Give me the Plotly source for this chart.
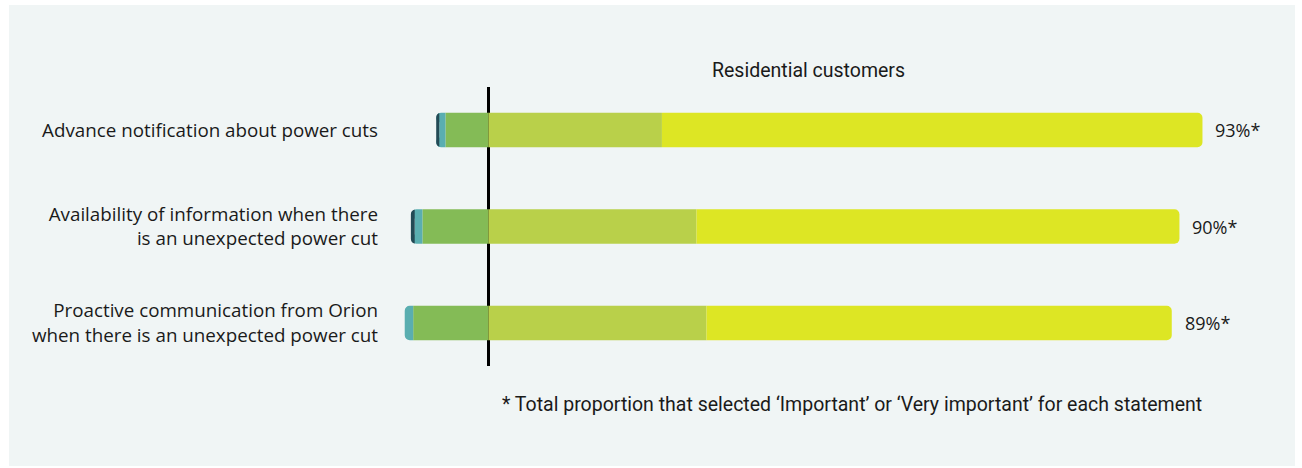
import plotly.graph_objects as go

# Survey statements (top to bottom)
statements = [
    "Advance notification about power cuts",
    "Availability of information when there<br>is an unexpected power cut",
    "Proactive communication from Orion<br>when there is an unexpected power cut",
]

# Share of residential customers per rating (%)
very_unimportant = [0.4, 0.5, 0.0]
unimportant = [0.8, 1.0, 1.1]
neutral = [5.6, 8.6, 9.8]
important = [22.6, 27.1, 28.4]
very_important = [70.4, 62.9, 60.6]

total_labels = ["93%*", "90%*", "89%*"]

colors = {
    "very_unimportant": "#234a55",
    "unimportant": "#5aaeb0",
    "neutral": "#84bb56",
    "important": "#b9d04a",
    "very_important": "#dde624",
}

TEXT = "#1a1a1a"
LABEL_FONT = "Open Sans"
NARROW_FONT = "Roboto"

fig = go.Figure()

# Left of the line: lower ratings stacked outward from zero
for name, vals in [("neutral", neutral), ("unimportant", unimportant),
                   ("very_unimportant", very_unimportant)]:
    fig.add_trace(go.Bar(
        y=statements, x=[-v for v in vals], orientation="h",
        marker=dict(color=colors[name], line=dict(width=0)),
        width=0.357, showlegend=False, hoverinfo="skip",
    ))

# Right of the line: important / very important
for name, vals in [("important", important), ("very_important", very_important)]:
    fig.add_trace(go.Bar(
        y=statements, x=vals, orientation="h",
        marker=dict(color=colors[name], line=dict(width=0)),
        width=0.357, showlegend=False, hoverinfo="skip",
    ))

# Combined "important" totals beside each bar
for s, a, b, lab in zip(statements, important, very_important, total_labels):
    fig.add_annotation(
        x=a + b, y=s, text=lab, showarrow=False,
        xanchor="left", xshift=11,
        font=dict(family=LABEL_FONT, size=18, color=TEXT),
    )

fig.add_annotation(
    xref="paper", yref="paper", x=0.469, y=1, yanchor="bottom", yshift=3,
    text="Residential customers", showarrow=False,
    font=dict(family=NARROW_FONT, size=19.5, color=TEXT),
)
fig.add_annotation(
    xref="paper", yref="paper", x=0.5166, y=0, yanchor="top", yshift=-25,
    text="* Total proportion that selected \u2018Important\u2019 or \u2018Very important\u2019 for each statement",
    showarrow=False,
    font=dict(family=NARROW_FONT, size=19.5, color=TEXT),
)

# Light panel behind the chart
fig.add_shape(
    type="rect", xref="paper", yref="paper",
    x0=-0.4139, x1=1.0055, y0=-0.3584, y1=1.2939,
    fillcolor="#f0f5f5", line=dict(width=0), layer="below",
)

fig.update_layout(
    width=1302, height=468,
    margin=dict(l=384, r=12, t=87, b=102),
    paper_bgcolor="white", plot_bgcolor="rgba(0,0,0,0)",
    barmode="relative", barcornerradius=5,
    xaxis=dict(range=[-13.6, 104.4], showgrid=False, showticklabels=False,
               zeroline=True, zerolinecolor="black", zerolinewidth=2.5,
               fixedrange=True),
    yaxis=dict(range=[2.445, -0.445], showgrid=False, zeroline=False,
               ticks="", ticklabelstandoff=5,
               tickfont=dict(family=LABEL_FONT, size=18.8, color=TEXT),
               fixedrange=True),
)

fig.write_html("out.html")
